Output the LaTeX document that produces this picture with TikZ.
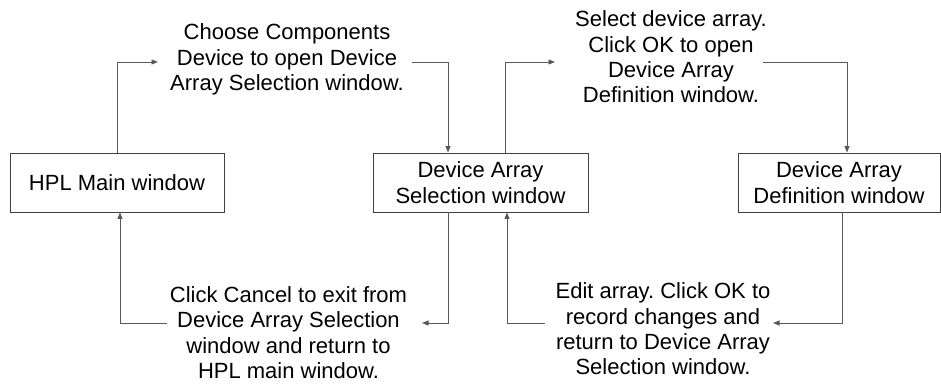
\documentclass[tikz,border=0pt]{standalone}
\usepackage{fontspec}
\setmainfont{Liberation Sans}
\usetikzlibrary{arrows.meta,calc}
\frenchspacing
\begin{document}
\begin{tikzpicture}[x=1pt,y=-1pt,
  every node/.style={font=\fontsize{22}{25.3}\selectfont},
  box/.style={draw=black!75,line width=0.9pt,minimum height=59pt,inner sep=0pt,align=center},
  lab/.style={align=center,inner sep=0pt},
  conn/.style={draw=black!65,line width=0.9pt,-{Triangle[length=6.5pt,width=5pt]}}]
\useasboundingbox (0,0) rectangle (941,383);
\node[box,minimum width=214pt] (hpl) at (117,182.5) {HPL Main window};
\node[box,minimum width=215pt] (sel) at (480.5,182.5) {Device Array\\Selection window};
\node[box,minimum width=202pt] (def) at (839,182.5) {Device Array\\Definition window};
\node[lab] (lab1) at (287,59.5) {Choose Components\\Device to open Device\\Array Selection window.};
\node[lab] (lab2) at (671,57) {Select device array.\\Click OK to open\\Device Array\\Definition window.};
\node[lab] (lab3) at (288.5,332.5) {Click Cancel to exit from\\Device Array Selection\\window and return to\\HPL main window.};
\node[lab] (lab4) at (663,329) {Edit array. Click OK to\\record changes and\\return to Device Array\\Selection window.};
\coordinate (l1in) at ($(lab1.center)+(-129,2.5)$);
\coordinate (l1out) at ($(lab1.center)+(125,2.5)$);
\coordinate (l2in) at ($(lab2.center)+(-116,5)$);
\coordinate (l2out) at ($(lab2.center)+(92,5)$);
\coordinate (l3in) at ($(lab3.center)+(133.5,-9.5)$);
\coordinate (l3out) at ($(lab3.center)+(-121.5,-9.5)$);
\coordinate (l4in) at ($(lab4.center)+(110,-6)$);
\coordinate (l4out) at ($(lab4.center)+(-118,-6)$);
\coordinate (c1) at (448,0);
\coordinate (c2) at (505,0);
\coordinate (c3) at (120,0);
\coordinate (c4) at (507,0);
\coordinate (c5) at (448,0);
\coordinate (c6) at (842,0);
\coordinate (c7) at (847,0);
\path[conn] (hpl.north) |- (l1in);
\path[conn] (l1out) -| (c1 |- sel.north);
\path[conn] (c2 |- sel.north) |- (l2in);
\path[conn] (l2out) -| (c7 |- def.north);
\path[conn] (c5 |- sel.south) |- (l3in);
\path[conn] (l3out) -| (c3 |- hpl.south);
\path[conn] (c6 |- def.south) |- (l4in);
\path[conn] (l4out) -| (c4 |- sel.south);
\end{tikzpicture}
\end{document}
